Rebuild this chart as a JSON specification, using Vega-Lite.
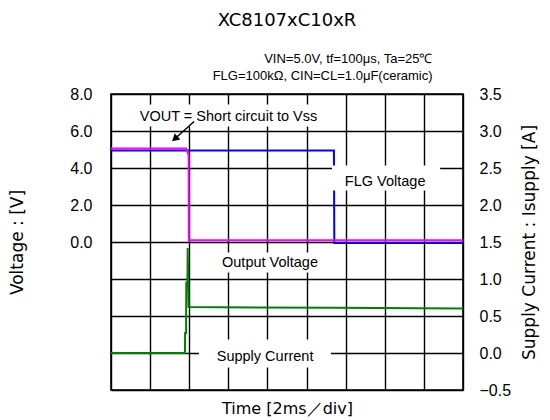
{
  "$schema": "https://vega.github.io/schema/vega-lite/v6.json",
  "width": 352,
  "height": 296,
  "padding": {"left": 8, "right": 5, "top": 12, "bottom": 2},
  "title": {"text": "XC8107xC10xR", "fontSize": 18, "fontWeight": "normal", "font": "DejaVu Sans", "color": "#000", "anchor": "middle", "offset": 22},
  "config": {
    "view": {"stroke": "#000", "strokeWidth": 1.6},
    "font": "Liberation Sans",
    "axis": {"labelColor": "#000", "titleColor": "#000", "titleFontWeight": "normal", "labelFont": "Liberation Sans", "titleFont": "DejaVu Sans", "labelFontSize": 16, "titleFontSize": 17, "tickSize": 0, "ticks": false, "domain": false}
  },
  "datasets": {
    "voltage": [
      {"s": "FLG", "t": 0, "v": 4.95},
      {"s": "FLG", "t": 11.40, "v": 4.95},
      {"s": "FLG", "t": 11.42, "v": -0.05},
      {"s": "FLG", "t": 18, "v": -0.05},
      {"s": "VOUT", "t": 0, "v": 5.05},
      {"s": "VOUT", "t": 3.85, "v": 5.05},
      {"s": "VOUT", "t": 3.97, "v": 4.7},
      {"s": "VOUT", "t": 3.98, "v": 0.1},
      {"s": "VOUT", "t": 18, "v": 0.1}
    ],
    "current": [
      {"t": 0, "i": 0.0},
      {"t": 3.78, "i": 0.0},
      {"t": 3.79, "i": 0.27},
      {"t": 3.84, "i": 0.27},
      {"t": 3.85, "i": 0.95},
      {"t": 3.91, "i": 0.95},
      {"t": 3.92, "i": 1.42},
      {"t": 3.97, "i": 0.62},
      {"t": 11.4, "i": 0.61},
      {"t": 18, "i": 0.6}
    ],
    "boxes": [
      {"t": 1.33, "t2": 10.74, "v": 7.43, "v2": 6.24},
      {"t": 11.30, "t2": 16.83, "v": 4.14, "v2": 2.78},
      {"t": 4.76, "t2": 11.41, "v": -0.57, "v2": -1.65},
      {"t": 4.50, "t2": 11.25, "v": -5.27, "v2": -6.78}
    ],
    "labels": [
      {"t": 6.01, "v": 6.73, "label": "VOUT = Short circuit  to Vss"},
      {"t": 14.02, "v": 3.22, "label": "FLG Voltage"},
      {"t": 8.13, "v": -1.11, "label": "Output Voltage"},
      {"t": 7.88, "v": -6.24, "label": "Supply Current"}
    ],
    "arrow": [
      {"t": 4.25, "v": 6.51, "t2": 3.31, "v2": 5.62}
    ],
    "arrowhead": [
      {"t": 3.31, "v": 5.62}
    ]
  },
  "layer": [
    {
      "data": {"name": "current"},
      "mark": {"type": "line", "color": "#008000", "strokeWidth": 2},
      "encoding": {
        "x": {"field": "t", "type": "quantitative", "scale": {"domain": [0, 18], "nice": false, "zero": false},
          "axis": {"orient": "top", "labels": false, "grid": false, "title": ["VIN=5.0V, tf=100μs, Ta=25℃", "FLG=100kΩ, CIN=CL=1.0μF(ceramic)"], "titleFont": "Liberation Sans", "titleFontSize": 13, "titleAnchor": "end", "titleAlign": "right", "titleX": 321, "titlePadding": 12, "titleLineHeight": 17}},
        "y": {"field": "i", "type": "quantitative", "scale": {"domain": [-0.5, 3.5], "nice": false, "zero": false},
          "axis": {"orient": "right", "values": [-0.5, 0, 0.5, 1, 1.5, 2, 2.5, 3, 3.5], "format": ".1f", "grid": false, "labelPadding": 16, "titlePadding": 28, "titleAngle": 270, "title": "Supply Current : Isupply [A]"}}
      }
    },
    {
      "encoding": {
        "x": {"field": "t", "type": "quantitative", "scale": {"domain": [0, 18], "nice": false, "zero": false},
          "axis": {"orient": "bottom", "values": [0, 2, 4, 6, 8, 10, 12, 14, 16, 18], "labels": false, "grid": true, "gridColor": "#000", "gridWidth": 1.4, "gridOpacity": 1, "title": "Time [2ms／div]", "titlePadding": 10, "titleFontSize": 16}},
        "y": {"field": "v", "type": "quantitative", "scale": {"domain": [-8, 8], "nice": false, "zero": false},
          "axis": {"orient": "left", "values": [-8, -6, -4, -2, 0, 2, 4, 6, 8], "labelExpr": "datum.value >= 0 ? format(datum.value, '.1f') : ''", "grid": true, "gridColor": "#000", "gridWidth": 1.4, "gridOpacity": 1, "labelPadding": 19, "titlePadding": 43, "title": "Voltage : [V]"}}
      },
      "layer": [
        {"data": {"name": "voltage"}, "transform": [{"filter": "datum.s == 'FLG'"}], "mark": {"type": "line", "color": "#0000ff", "strokeWidth": 2}},
        {"data": {"name": "voltage"}, "transform": [{"filter": "datum.s == 'VOUT'"}], "mark": {"type": "line", "color": "#ff00ff", "strokeWidth": 2}},
        {"data": {"name": "boxes"}, "mark": {"type": "rect", "fill": "#ffffff"}, "encoding": {"x2": {"field": "t2"}, "y2": {"field": "v2"}}},
        {"data": {"name": "labels"}, "mark": {"type": "text", "fontSize": 14.5, "color": "#000", "font": "Liberation Sans"}, "encoding": {"text": {"field": "label"}}},
        {"data": {"name": "arrow"}, "mark": {"type": "rule", "color": "#000", "strokeWidth": 1.5}, "encoding": {"x2": {"field": "t2"}, "y2": {"field": "v2"}}},
        {"data": {"name": "arrowhead"}, "mark": {"type": "point", "shape": "triangle", "filled": true, "color": "#000", "opacity": 1, "size": 70, "angle": 228}}
      ]
    }
  ],
  "resolve": {"scale": {"y": "independent"}, "axis": {"x": "independent", "y": "independent"}}
}
